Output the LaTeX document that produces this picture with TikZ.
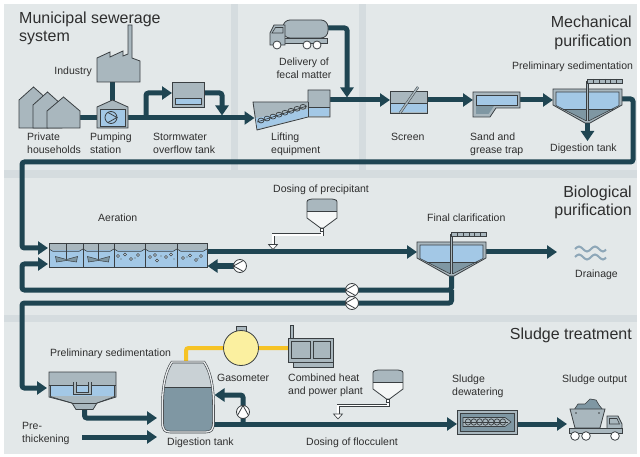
\documentclass[tikz,border=0pt]{standalone}
\usepackage{fontspec}
\setmainfont{Liberation Sans}
\usetikzlibrary{arrows.meta}

\definecolor{panel}{HTML}{E3E8E9}
\definecolor{strip}{HTML}{D5DCDF}
\definecolor{pipe}{HTML}{1F4552}
\definecolor{unit}{HTML}{A9B7BE}
\definecolor{unitdark}{HTML}{7F97A3}
\definecolor{unitlight}{HTML}{C9D1D5}
\definecolor{water}{HTML}{A3C8E6}
\definecolor{edge}{HTML}{3A3F42}
\definecolor{gas}{HTML}{F6C325}
\definecolor{gasfill}{HTML}{FBF0A0}
\definecolor{ink}{HTML}{2E2E2E}
\definecolor{wave}{HTML}{8EA7B8}

\tikzset{
  pipe/.style={draw=pipe, line width=5pt, rounded corners=2.5pt},
  flow/.style={pipe, -{Triangle[length=10pt,width=13pt]}},
  gasline/.style={draw=gas, line width=4pt, rounded corners=2.5pt},
  unitbox/.style={fill=unit, draw=edge, line width=0.8pt},
  thin/.style={draw=edge, line width=0.6pt},
  dose/.style={draw=edge, line width=0.6pt, double=white, double distance=1.8pt},
  lbl/.style={font=\fontsize{10.5}{13}\selectfont, text=ink, inner sep=0pt, align=left},
  head/.style={font=\fontsize{16}{18.5}\selectfont, text=ink, inner sep=0pt},
  pump/.pic={
    \fill[white] (0,0) circle (6.5);
    \draw[edge, line width=0.8pt] (0,0) circle (6.5);
    \draw[edge, line width=0.8pt] (-3.4,-5.5) -- (6.5,0) -- (-3.4,5.5);
  },
  silo/.pic={
    \fill[white!65!panel] (0,19) -- (0,5) .. controls (0,1) .. (5,0) -- (25,0)
      .. controls (30,1) .. (30,5) -- (30,19) -- (16.5,29) -- (13.5,29) -- cycle;
    \begin{scope}
      \clip (0,19) -- (0,5) .. controls (0,1) .. (5,0) -- (25,0)
        .. controls (30,1) .. (30,5) -- (30,19) -- cycle;
      \fill[unit] (0,0) rectangle (30,12);
    \end{scope}
    \draw[edge, line width=0.8pt] (0,12) -- (30,12);
    \draw[edge, line width=0.8pt] (0,19) -- (0,5) .. controls (0,1) .. (5,0) -- (25,0)
      .. controls (30,1) .. (30,5) -- (30,19) -- (16.5,29) -- (13.5,29) -- cycle;
    \draw[edge, line width=0.7pt, fill=white] (13.5,29) rectangle (16.5,32);
  },
  clarifier/.pic={
    \fill[unit] (0,0) -- (69,0) -- (69,16) -- (37,34) -- (32,34) -- (0,16) -- cycle;
    \fill[unitdark] (3,16.5) -- (66,16.5) -- (36.5,31.5) -- (32.5,31.5) -- cycle;
    \fill[water] (3,3) -- (66,3) -- (66,16.5) -- (59.5,20) -- (9.5,20) -- (3,16.5) -- cycle;
    \draw[edge, line width=0.5pt] (9.5,20) -- (59.5,20);
    \draw[edge, line width=0.8pt] (0,0) -- (69,0) -- (69,16) -- (37,34) -- (32,34) -- (0,16) -- cycle;
    \draw[edge, line width=0.6pt] (3,3) -- (3,16.5) -- (32.5,31.5) -- (36.5,31.5) -- (66,16.5) -- (66,3) -- cycle;
    \draw[edge, line width=0.5pt, double=unit, double distance=1.2pt] (34.5,-8) -- (34.5,32);
    \draw[edge, fill=unit, line width=0.5pt] (34.5,-10) rectangle (69,-6);
    \foreach \u in {40.3,46.1,51.9,57.7,63.5} \draw[edge, line width=0.5pt] (\u,-10) -- (\u,-6);
  },
}

\begin{document}
\begin{tikzpicture}[x=1pt,y=-1pt]
\useasboundingbox (0,0) rectangle (640,457);

% ---------- background bands ----------
\fill[white] (0,0) rectangle (640,457);
\fill[panel] (4,4) rectangle (637,454);
\fill[strip] (231,4) rectangle (238,170);
\fill[strip] (359,4) rectangle (366,170);
\fill[strip] (4,170) rectangle (637,178);
\fill[strip] (4,315) rectangle (637,322);

% ---------- ports ----------
\coordinate (hh-out) at (80,118);
\coordinate (ps-in) at (97,118);
\coordinate (ind-out) at (112.5,82);
\coordinate (ps-top) at (112.5,101);
\coordinate (ps-out) at (128,118);
\coordinate (lift-in) at (254.5,118);
\coordinate (sw-tap) at (146,118);
\coordinate (sw-in) at (172,93);
\coordinate (sw-out) at (204,93);
\coordinate (sw-drop) at (222,115.5);
\coordinate (tr-out) at (327,28);
\coordinate (tr-drop) at (347,97.5);
\coordinate (lift-out) at (330,100);
\coordinate (scr-in) at (390,100);
\coordinate (scr-out) at (427,100);
\coordinate (sg-in) at (473,100);
\coordinate (sg-out) at (520,100);
\coordinate (ps1-in) at (553,100);
\coordinate (ps1-out) at (622,99);
\coordinate (ps1-bot) at (587.5,122);
\coordinate (ps1-sludge) at (587.5,141);
\coordinate (ae-in1) at (48,248);
\coordinate (ae-in2) at (48,264);
\coordinate (ae-out) at (207,252);
\coordinate (ae-ret) at (207.5,266);
\coordinate (ir-pump) at (240,266);
\coordinate (fc-in) at (417,252);
\coordinate (fc-out) at (486,252);
\coordinate (fc-bot) at (451.5,275);
\coordinate (fc-split) at (451.5,290);
\coordinate (dr-in) at (557,252);
\coordinate (ps2-in) at (47,388);
\coordinate (ps2-bot) at (84.5,409);
\coordinate (dt-in1) at (157,418);
\coordinate (pt-start) at (82,437);
\coordinate (dt-in2) at (157,437);
\coordinate (dt-out) at (212,424);
\coordinate (rc-tap) at (243,424);
\coordinate (dt-ret) at (214.5,395);
\coordinate (dw-in) at (457,424);
\coordinate (dw-out) at (517,424);
\coordinate (so-in) at (567,424);
\coordinate (dt-gas) at (186,363);
\coordinate (chp-in) at (289,348);
\coordinate (pp-out) at (322,231);
\coordinate (pp-feed) at (273,244.5);
\coordinate (fl-out) at (388,402);
\coordinate (fl-feed) at (338,414);

% ---------- pipes ----------
\draw[pipe] (hh-out) -- (ps-in);
\draw[pipe] (ind-out) -- (ps-top);
\draw[flow] (ps-out) -- (lift-in);
\draw[flow] (sw-tap) |- (sw-in);
\draw[flow] (sw-out) -| (sw-drop);
\draw[flow] (tr-out) -| (tr-drop);
\draw[flow] (lift-out) -- (scr-in);
\draw[flow] (scr-out) -- (sg-in);
\draw[flow] (sg-out) -- (ps1-in);
\draw[flow] (ps1-bot) -- (ps1-sludge);
\draw[flow] (ps1-out) -- (633,99) -- (633,162) -- (22,162) -- (22,248) -- (ae-in1);
\draw[flow] (ae-out) -- (fc-in);
\draw[flow] (fc-out) -- (dr-in);
\draw[flow] (fc-bot) |- (22,290) |- (ae-in2);
\draw[flow] (fc-split) |- (22,303) |- (ps2-in);
\draw[flow] (ir-pump) -- (ae-ret);
\draw[flow] (ps2-bot) |- (dt-in1);
\draw[flow] (pt-start) -- (dt-in2);
\draw[flow] (dt-out) -- (dw-in);
\draw[flow] (rc-tap) |- (dt-ret);
\draw[flow] (dw-out) -- (so-in);
\draw[gasline] (dt-gas) |- (chp-in);

% dosing lines
\draw[dose] (pp-out) -- (322,235) -| (pp-feed);
\draw[thin, fill=white] (268.5,244.5) -- (277.5,244.5) -- (273,249.5) -- cycle;
\draw[dose] (fl-out) -- (388,405.5) -| (fl-feed);
\draw[thin, fill=white] (333.5,414) -- (342.5,414) -- (338,419) -- cycle;

% ---------- municipal sewerage ----------
% houses
\draw[unitbox] (19,128) -- (19,100) -- (33.5,87) -- (48,100) -- (48,128) -- cycle;
\draw[unitbox] (33,128) -- (33,105) -- (47.5,92) -- (62,105) -- (62,128) -- cycle;
\draw[unitbox] (47,128) -- (47,111) -- (63.5,97) -- (80,111) -- (80,128) -- cycle;
% industry
\draw[unitbox] (97,82) -- (97,58) -- (110,52) -- (110,57) -- (123,51) -- (123,56) -- (128,54)
  -- (128,25) -- (132,25) -- (132,58) -- (140,61) -- (140,82) -- cycle;
% pumping station
\draw[unitbox] (97,128) -- (97,107) -- (112.5,100) -- (128,107) -- (128,128) -- cycle;
\draw[edge, fill=water, line width=0.7pt] (100,109) rectangle (125,126);
\draw[edge, line width=0.8pt] (111,117.5) circle (6);
\draw[edge, line width=0.8pt] (107.8,112.4) -- (117,117.5) -- (107.8,122.6);
% stormwater overflow tank
\draw[unitbox] (172,82) rectangle (204,107);
\draw[edge, fill=water, line width=0.7pt] (175,98) rectangle (201,104);

% delivery truck
\draw[unitbox, rounded corners=7pt] (283,20) rectangle (328,38);
\draw[unitbox] (283,38) rectangle (327,43);
\draw[unitbox] (270,45) -- (270,33) -- (274,25) -- (285,25) -- (285,45) -- cycle;
\draw[thin] (272,33) -- (275.5,27.5) -- (283,27.5) -- (283,33) -- cycle;
\foreach \w in {277,307,317} \draw[edge, fill=white, line width=0.8pt] (\w,45) circle (4);

% lifting equipment
\draw[unitbox] (253,102) -- (308,102) -- (308,90) -- (330,90) -- (330,117) -- (308,117) -- (257,130) -- cycle;
\fill[water] (255.6,118) -- (308,109) -- (308,116.3) -- (257.4,128.8) -- cycle;
\fill[water] (309,107) rectangle (329.3,116.3);
\draw[thin] (308,107) -- (330,107);
\draw[thin] (308,102) -- (308,117);
\draw[edge, line width=0.7pt] (257,122) -- (307,106);
\foreach \i in {0,...,7}
  \draw[edge, line width=0.7pt] (261+6*\i,120.5-1.95*\i) ellipse (3 and 2.4);

% screen
\draw[unitbox] (390,91) rectangle (427,113);
\fill[water] (390.5,103) rectangle (426.5,112.5);
\draw[thin] (390,103) -- (427,103);
\draw[edge, line width=0.5pt, double=unit, double distance=1.4pt] (400,113) -- (418,87);

% sand and grease trap
\draw[unitbox] (473,92) -- (520,92) -- (520,108) -- (496,108) -- (490,117) -- (473,117) -- cycle;
\fill[unitdark] (476,106) -- (494,106) -- (488.5,114) -- (476,114) -- cycle;
\draw[thin, fill=water] (476,95) rectangle (517,105);

% preliminary sedimentation (mechanical stage)
\pic at (553,89) {clarifier};

% ---------- biological purification ----------
% aeration tank
\fill[unit] (49,243) rectangle (207,267);
\fill[water] (49,250) rectangle (207,267);
\foreach \a/\b in {49/83,83/114,114/145,145/177,177/207}
  \draw[edge, line width=0.6pt] (\a,249) .. controls (\a+1.5,251) .. (\a+4,251.3) -- (\b-4,251.3) .. controls (\b-1.5,251) .. (\b,249);
\foreach \x in {83,114,145,177} \draw[edge, line width=0.7pt] (\x,243) -- (\x,267);
\foreach \c in {66.5,98.5} {
  \draw[edge, line width=0.7pt] (\c,243) -- (\c,259);
  \draw[edge, fill=unitdark, line width=0.5pt] (\c-11,256.5) -- (\c,259.5) -- (\c+11,256.5) -- (\c+10,262) -- (\c,260.5) -- (\c-10,262) -- cycle;
}
\foreach \bx/\by in {118/256,125/254.5,131/259,138/255,150/257,155/255,157/260.5,166/257,171/254.5,
                     183/258,190/255.5,196/260,201/256}
  \draw[edge, fill=white!60!water, line width=0.5pt] (\bx,\by) circle (1.5);
\foreach \bx/\by in {121/259,135/258,161/256,174/259,187/257,198/258.5}
  \fill[unitdark] (\bx,\by) circle (0.8);
\draw[edge, line width=0.9pt] (49,243) rectangle (207,267);

% precipitant silo
\pic at (307,199) {silo};

% final clarification
\pic at (417,242) {clarifier};

% drainage
\draw[wave, line width=2pt] (575,249) sin (579,246.5) cos (583,249) sin (587,251.5) cos (591,249)
  sin (595,246.5) cos (599,249) sin (603,251.5) cos (606,249.5);
\draw[wave, line width=2pt] (575,257) sin (579,254.5) cos (583,257) sin (587,259.5) cos (591,257)
  sin (595,254.5) cos (599,257) sin (603,259.5) cos (606,257.5);

% pumps
\pic[rotate=180] at (ir-pump) {pump};
\pic[rotate=180] at (352,290) {pump};
\pic[rotate=180] at (352,303) {pump};

% ---------- sludge treatment ----------
% preliminary sedimentation (sludge stage)
\draw[unitbox] (49,372) -- (116,372) -- (116,397) -- (97,403) -- (93,409.5) -- (76,409.5) -- (72,403) -- (49,397) -- cycle;
\fill[water] (50.5,385) rectangle (114.5,396);
\draw[thin] (49,385) -- (116,385);
\draw[thin] (50.5,385) -- (50.5,396.5) -- (73,403.5) -- (96,403.5) -- (114.5,396.5) -- (114.5,385);
\draw[edge, line width=3.4pt] (75,381.5) -- (75,393.5) -- (90,393.5) -- (90,381.5);
\draw[unit, line width=1.8pt] (75,381.5) -- (75,393.5) -- (90,393.5) -- (90,381.5);

% digestion tank
\begin{scope}
  \clip (172,362) -- (204,362) .. controls (211,372) and (213.5,388) .. (213.5,405) -- (213.5,422)
    .. controls (213.5,430) and (211,432) .. (206,432) -- (170,432)
    .. controls (165,432) and (162.5,430) .. (162.5,422) -- (162.5,405)
    .. controls (162.5,388) and (165,372) .. (172,362) -- cycle;
  \fill[unitlight] (160,360) rectangle (216,387);
  \fill[unitdark] (160,387) rectangle (216,434);
  \draw[edge, line width=0.7pt] (160,387) -- (216,387);
\end{scope}
\draw[edge, line width=0.6pt, double=white!75!unit, double distance=1.3pt]
  (172,362) -- (204,362) .. controls (211,372) and (213.5,388) .. (213.5,405) -- (213.5,422)
    .. controls (213.5,430) and (211,432) .. (206,432) -- (170,432)
    .. controls (165,432) and (162.5,430) .. (162.5,422) -- (162.5,405)
    .. controls (162.5,388) and (165,372) .. (172,362) -- cycle;

% gasometer
\draw[edge, fill=unit, line width=0.6pt] (236,326.5) rectangle (246,331);
\draw[edge, fill=gasfill, line width=0.8pt] (241,348) circle (17.5);

% combined heat and power plant
\draw[unitbox] (290,325) rectangle (293.5,338);
\draw[unitbox] (288,338) rectangle (333,362);
\draw[thin, fill=unit] (291.5,341) rectangle (310,358.5);
\draw[thin, fill=unit] (313,341) rectangle (330,358.5);
\draw[unitbox] (293,362) rectangle (333,367);

% flocculent silo
\pic at (373,370) {silo};

% recirculation pump
\pic[rotate=90] at (243,412) {pump};

% sludge dewatering
\draw[unitbox] (457,410) rectangle (517,434);
\draw[thin, fill=unitdark] (460,413) rectangle (514,431);
\draw[thin, fill=unit] (463,417.5) -- (505,417.5) -- (511,422) -- (505,426.5) -- (463,426.5) -- cycle;
\draw[edge, line width=0.7pt] (463,422) -- (508,422);
\foreach \i in {0,...,6} \draw[edge, line width=0.7pt] (468+5.8*\i,422) ellipse (2.8 and 3.2);

% sludge output truck
\draw[edge, fill=unitdark, line width=0.6pt] (574,410) -- (578,404) -- (585,404) -- (590,399) -- (596,400) -- (599,405) -- (603,410) -- cycle;
\draw[unitbox] (570,409) -- (605,409) -- (600,428) -- (575,428) -- cycle;
\fill[edge] (576,413) circle (0.8) (599,413) circle (0.8);
\draw[unitbox] (607,433) -- (607,416) -- (618,416) -- (622,424) -- (622,433) -- cycle;
\draw[thin] (609.5,418.5) -- (617,418.5) -- (619.5,424) -- (609.5,424) -- cycle;
\draw[unitbox] (569,428) rectangle (622,433);
\foreach \w in {575,586,615} \draw[edge, fill=white, line width=0.8pt] (\w,436) circle (4.3);

% ---------- section headings ----------
\node[head, anchor=north west, align=left] (h-mun) at (19,11.5) {Municipal sewerage\\system};
\node[head, anchor=north east, align=right] (h-mech) at (632,16) {Mechanical\\purification};
\node[head, anchor=north east, align=right] (h-bio) at (632,185.5) {Biological\\purification};
\node[head, anchor=north east, align=right] (h-sludge) at (632,328) {Sludge treatment};

% ---------- labels ----------
\node[lbl, anchor=north east] (t-ind) at (92,66.5) {Industry};
\node[lbl, anchor=north west] (t-hh) at (27,132.5) {Private\\households};
\node[lbl, anchor=north west] (t-ps) at (90,132.5) {Pumping\\station};
\node[lbl, anchor=north west] (t-sw) at (153,132.5) {Stormwater\\overflow tank};
\node[lbl, anchor=north, align=center] (t-fec) at (304,58) {Delivery of\\fecal matter};
\node[lbl, anchor=north west] (t-lift) at (271,132.5) {Lifting\\equipment};
\node[lbl, anchor=north west] (t-scr) at (391,132.5) {Screen};
\node[lbl, anchor=north west] (t-sg) at (470,132.5) {Sand and\\grease trap};
\node[lbl, anchor=north west] (t-ps1) at (512,61.5) {Preliminary sedimentation};
\node[lbl, anchor=north west] (t-dt1) at (550,143.5) {Digestion tank};
\node[lbl, anchor=north west] (t-ae) at (98,213.5) {Aeration};
\node[lbl, anchor=north west] (t-pp) at (273,184.5) {Dosing of precipitant};
\node[lbl, anchor=north west] (t-fc) at (427,213.5) {Final clarification};
\node[lbl, anchor=north west] (t-dr) at (575,269.5) {Drainage};
\node[lbl, anchor=north west] (t-ps2) at (50,348.5) {Preliminary sedimentation};
\node[lbl, anchor=north west] (t-gas) at (217,373.5) {Gasometer};
\node[lbl, anchor=north west] (t-chp) at (288,373.5) {Combined heat\\and power plant};
\node[lbl, anchor=north west] (t-pt) at (22,422.5) {Pre-\\thickening};
\node[lbl, anchor=north west] (t-dt2) at (167,437.5) {Digestion tank};
\node[lbl, anchor=north west] (t-fl) at (306,437.5) {Dosing of flocculent};
\node[lbl, anchor=north west] (t-dw) at (452,374.5) {Sludge\\dewatering};
\node[lbl, anchor=north west] (t-so) at (562,374.5) {Sludge output};
\end{tikzpicture}
\end{document}
